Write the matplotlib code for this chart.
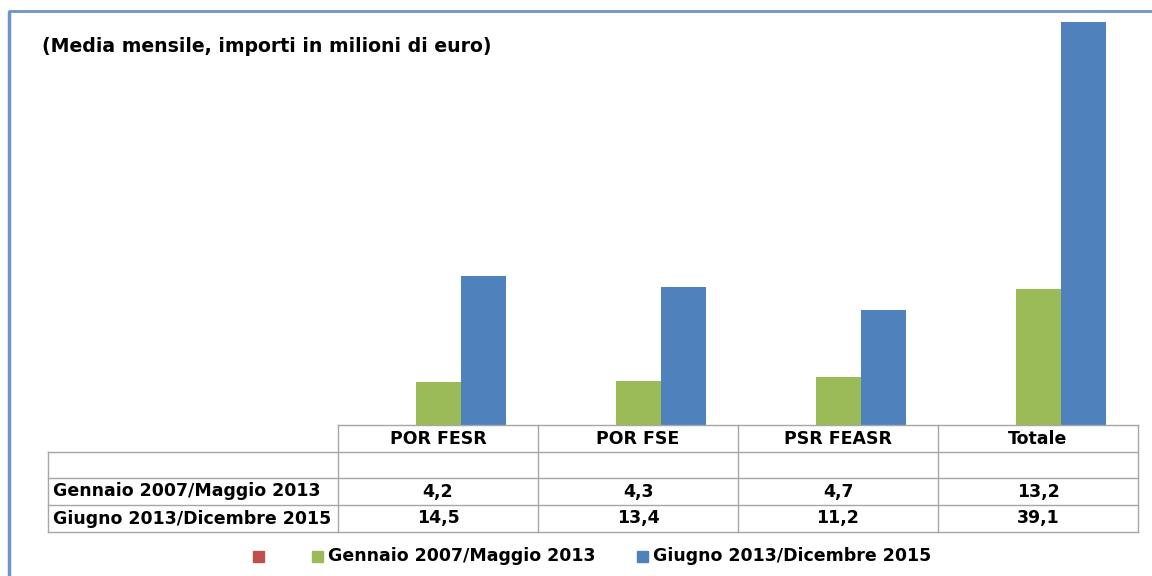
import matplotlib.pyplot as plt
import numpy as np

# Data
categories = ['POR FESR', 'POR FSE', 'PSR FEASR', 'Totale']
series_names = ['', 'Gennaio 2007/Maggio 2013', 'Giugno 2013/Dicembre 2015']
empty_series = [np.nan, np.nan, np.nan, np.nan]
gen2007_mag2013 = [4.2, 4.3, 4.7, 13.2]
giu2013_dic2015 = [14.5, 13.4, 11.2, 39.1]
labels_fmt = lambda v: f'{v:.1f}'.replace('.', ',')

green = '#9BBB59'
blue = '#4F81BD'
red = '#C0504D'
grid_col = '#A6A6A6'

plt.rcParams['font.family'] = ['DejaVu Sans']

W, H = 1152, 576
fig = plt.figure(figsize=(W / 100, H / 100), dpi=100)

# Bars axes (pixel layout: x 338-1138, baseline y 425, top y 11)
ax = fig.add_axes([338 / W, (H - 425) / H, 800 / W, 414 / H])
x = np.arange(len(categories))
bw = 0.225
for k, (vals, col) in enumerate(zip([empty_series, gen2007_mag2013, giu2013_dic2015],
                                    [red, green, blue])):
    ax.bar(x + (k - 1) * bw, vals, bw, color=col)
ax.set_xlim(-0.5, len(categories) - 0.5)
ax.set_ylim(0, 40.17)
ax.axis('off')

# Overlay axes in pixel coordinates for table, borders, title, legend
ov = fig.add_axes([0, 0, 1, 1])
ov.set_xlim(0, W)
ov.set_ylim(H, 0)
ov.axis('off')
ov.patch.set_alpha(0)

# Borders
ov.plot([9, 9], [11, H], color='#6F94C8', lw=2.5, solid_capstyle='butt')
ov.plot([8, W], [11, 11], color='#6F94C8', lw=2, solid_capstyle='butt')

ov.text(42, 46, '(Media mensile, importi in milioni di euro)', fontsize=13.6,
        fontweight='bold', va='center', ha='left')

# Table
col_left = 338
col_w = 200
label_left = 48
row_y = [425, 452, 478, 505, 532]
ncol = len(categories)
right = col_left + ncol * col_w
lw = 1.0
ov.plot([col_left, right], [row_y[0]] * 2, color=grid_col, lw=lw)
for yy in row_y[1:]:
    ov.plot([label_left, right], [yy] * 2, color=grid_col, lw=lw)
ov.plot([label_left, label_left], [row_y[1], row_y[-1]], color=grid_col, lw=lw)
for i in range(ncol + 1):
    xx = col_left + i * col_w
    ov.plot([xx, xx], [row_y[0], row_y[-1]], color=grid_col, lw=lw)

fs = 12.5
for i, c in enumerate(categories):
    cx = col_left + (i + 0.5) * col_w
    ov.text(cx, (row_y[0] + row_y[1]) / 2, c, ha='center', va='center',
            fontsize=fs, fontweight='bold')
    for r, vals in enumerate([gen2007_mag2013, giu2013_dic2015]):
        ov.text(cx, (row_y[r + 2] + row_y[r + 3]) / 2, labels_fmt(vals[i]),
                ha='center', va='center', fontsize=fs, fontweight='bold')
for r, name in enumerate(series_names[1:]):
    ov.text(label_left + 5, (row_y[r + 2] + row_y[r + 3]) / 2, name,
            ha='left', va='center', fontsize=fs, fontweight='bold')

# Legend
ly = 556
sq = 11
for xx, col in [(253, red), (312, green), (637, blue)]:
    ov.add_patch(plt.Rectangle((xx, ly - sq / 2), sq, sq, color=col))
ov.text(328, ly, series_names[1], ha='left', va='center', fontsize=fs, fontweight='bold')
ov.text(653, ly, series_names[2], ha='left', va='center', fontsize=fs, fontweight='bold')

fig.savefig('out.png', dpi=100)
